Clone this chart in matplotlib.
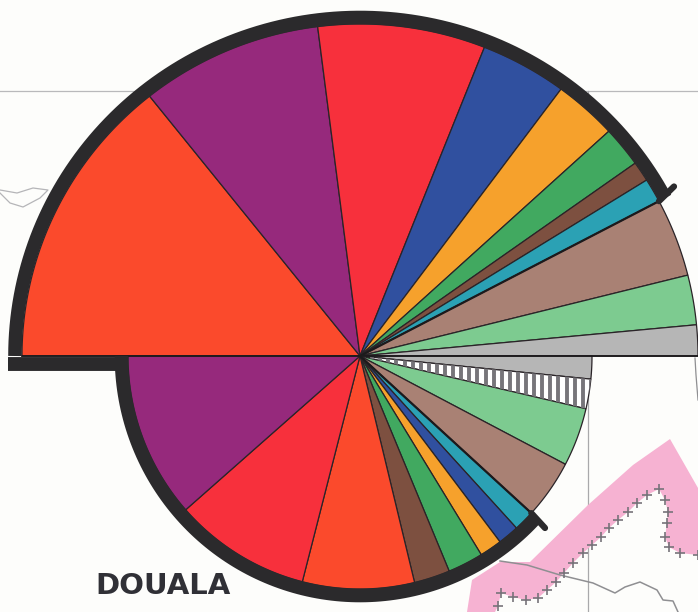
import numpy as np
import matplotlib
matplotlib.use('Agg')
import matplotlib.pyplot as plt
from matplotlib.patches import Polygon

# sector sizes in degrees
# upper half runs clockwise from the left, lower half clockwise from the right
upper_names = ['services', 'commerce', 'transport', 'banks', 'food', 'chem', 'metal', 'wood', 'build', 'text', 'other']
upper_values = [51.5, 31.3, 28.8, 14.9, 10.9, 7.1, 3.5, 4.2, 13.7, 8.7, 5.4]
upper_colors = ['#fb4a2c', '#96297c', '#f7303c', '#30509f', '#f6a12c', '#41a960', '#7d5040', '#2ba1b4', '#a98174', '#7dcb90', '#b6b6b6']

lower_names = ['other', 'misc', 'text', 'build', 'wood', 'banks', 'food', 'chem', 'metal', 'transport', 'red', 'commerce']
lower_values = [5.7, 7.4, 14.6, 14.7, 5.2, 5.3, 5.6, 8.9, 9.0, 28.0, 34.3, 41.3]
lower_colors = ['#b6b6b6', 'white', '#7dcb90', '#a98174', '#2ba1b4', '#30509f', '#f6a12c', '#41a960', '#7d5040', '#fb4a2c', '#f7303c', '#96297c']

river = [(500, 561), (527, 565), (560, 575), (593, 583), (615, 593), (625, 587), (640, 582), (657, 590), (663, 600), (673, 601), (678, 612)]
border_crosses = [(698, 555), (680, 553), (669, 547), (665, 537), (667, 523), (668, 512), (665, 500), (659, 489), (647, 495),
                  (637, 503), (628, 512), (618, 520), (609, 528), (601, 537), (592, 545), (583, 553), (573, 563), (564, 573),
                  (556, 582), (547, 590), (538, 598), (526, 600), (513, 597), (501, 593), (498, 606)]
pink_outer = [(467, 612), (472, 580), (500, 562), (530, 562), (588, 505), (633, 465), (670, 439), (698, 488)]
wisp = [(0, 193), (10, 203), (23, 207), (40, 198), (48, 190), (33, 188), (17, 193), (0, 190)]
coast = [(695, 358), (696, 375), (698, 400)]

CX, CY = 360, 356
DARK = '#2b2a2c'


def arc(a0, a1, rx, ry, n=120):
    t = np.radians(np.linspace(a0, a1, n))
    return np.column_stack([CX + rx * np.cos(t), CY - ry * np.sin(t)])


fig = plt.figure(figsize=(6.98, 6.12), dpi=100, facecolor='#fdfdfb')
ax = fig.add_axes([0, 0, 1, 1])
ax.set_xlim(0, 698)
ax.set_ylim(612, 0)
ax.axis('off')

# map underneath
ax.plot([0, 698], [91, 91], color='#b9b9bb', lw=0.9, zorder=1)
ax.plot([588, 588], [91, 612], color='#a9a9ab', lw=0.9, zorder=1)
ax.add_patch(Polygon(pink_outer + border_crosses + [(495, 612)], closed=True, fc='#f6b2d2', ec='none', zorder=1))
ax.plot(*zip(*river), color='#8f8f92', lw=1.1, zorder=2)
ax.plot(*zip(*wisp), color='#b5b5b8', lw=0.9, zorder=2)
ax.plot(*zip(*coast), color='#8f8f92', lw=0.9, zorder=2)
ax.scatter(*zip(*border_crosses), marker='+', s=42, color='#77737a', lw=1.2, zorder=3)

# upper half
RX_UP, RY_UP = 338, 332
angle = 180
for value, color in zip(upper_values, upper_colors):
    pts = np.vstack([[CX, CY], arc(angle, angle - value, RX_UP, RY_UP)])
    ax.add_patch(Polygon(pts, closed=True, fc=color, ec='#2a2428', lw=0.9, zorder=4))
    angle -= value

# lower half
R_LOW = 232
angle = 0
for name, value, color in zip(lower_names, lower_values, lower_colors):
    pts = np.vstack([[CX, CY], arc(angle, angle - value, R_LOW, R_LOW + 1)])
    wedge = Polygon(pts, closed=True, fc=color, ec='#2a2428', lw=0.9, zorder=4)
    ax.add_patch(wedge)
    if name == 'misc':
        lines = ax.vlines(np.arange(364, 592, 8.1), CY, CY + 70, color='#77757a', lw=2.8, zorder=5)
        lines.set_clip_path(wedge)
    angle -= value

# heavy outline, both halves stop at the teal/tan boundary
upper_end = 180 - sum(upper_values[:8])
lower_end = -sum(lower_values[:4])
ax.plot(*arc(180, upper_end, RX_UP + 7, RY_UP + 6.5).T, color=DARK, lw=9.8, solid_capstyle='butt', zorder=6)
ax.plot(*arc(-180, lower_end, R_LOW + 6.5, R_LOW + 7.5).T, color=DARK, lw=9.8, solid_capstyle='butt', zorder=6)
ax.plot([8, 128], [363.5, 363.5], color=DARK, lw=10, solid_capstyle='butt', zorder=6)

# little ticks at the ends of the outline
end_u = arc(upper_end, upper_end, RX_UP, RY_UP, 1)[0]
ax.plot([end_u[0], 674], [end_u[1], 186.5], color=DARK, lw=4.5, solid_capstyle='round', zorder=6)
end_l = arc(lower_end, lower_end, R_LOW, R_LOW + 1, 1)[0]
ax.plot([end_l[0], 545], [end_l[1], 528], color=DARK, lw=4.5, solid_capstyle='round', zorder=6)

# black rule over teal/tan boundaries and across the middle
for a, rx, ry in [(upper_end, RX_UP, RY_UP), (lower_end, R_LOW, R_LOW + 1)]:
    p = arc(a, a, rx, ry, 1)[0]
    ax.plot([CX, p[0]], [CY, p[1]], color='#1c1a1c', lw=1.6, zorder=5)
ax.plot([CX - RX_UP, CX + RX_UP], [CY, CY], color='#1c1a1c', lw=1.3, zorder=5)

ax.text(95, 593.5, 'DOUALA', family='DejaVu Sans', weight='bold', fontsize=21, color='#303036', zorder=7)

fig.savefig('out.png', dpi=100, facecolor=fig.get_facecolor())
